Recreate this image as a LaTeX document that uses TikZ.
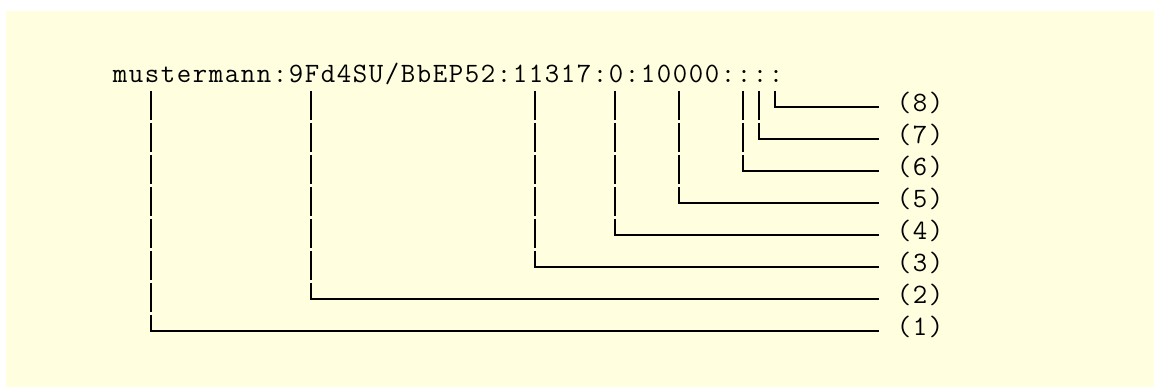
\documentclass[tikz,border=0pt]{standalone}
\usepackage{fontspec}
\usepackage{xcolor}
\usepackage{tikz}
\usetikzlibrary{calc}
\definecolor{notebg}{HTML}{FFFFE0}
% set a string one character per 8pt column
\def\cells#1{\ifx#1\relax\else\makebox[8pt]{#1}\expandafter\cells\fi}

\begin{document}
\begin{tikzpicture}[x=0.5pt, y=-0.5pt, line width=1pt, every node/.style={inner sep=0pt, font=\fontsize{14}{16}\selectfont\ttfamily}]
  \useasboundingbox (0,0) rectangle (1154,387);
  \fill[notebg] (6,11) rectangle (1154,387);
  \node[anchor=base west] (pw) at (111,82) {\cells mustermann:9Fd4SU/BbEP52:11317:0:10000::::\relax};
  % one field per column, numbered from the left
  \foreach \col [count=\i] in {2,12,26,31,35,39,40,41} {
    \node[anchor=mid west] (l\i) at (895,{107+32*(8-\i)}) {\cells(\i)\relax};
    \coordinate (top\i) at ($(pw.base west)+(16*\col+8,9)$);
    \draw[dash pattern=on 14.5pt off 1.5pt] (top\i) -- ++(0,{32*(8-\i)});
    \draw (top\i) ++(0,{32*(8-\i)}) |- ([xshift=-8pt]l\i.mid west);
  }
\end{tikzpicture}
\end{document}
